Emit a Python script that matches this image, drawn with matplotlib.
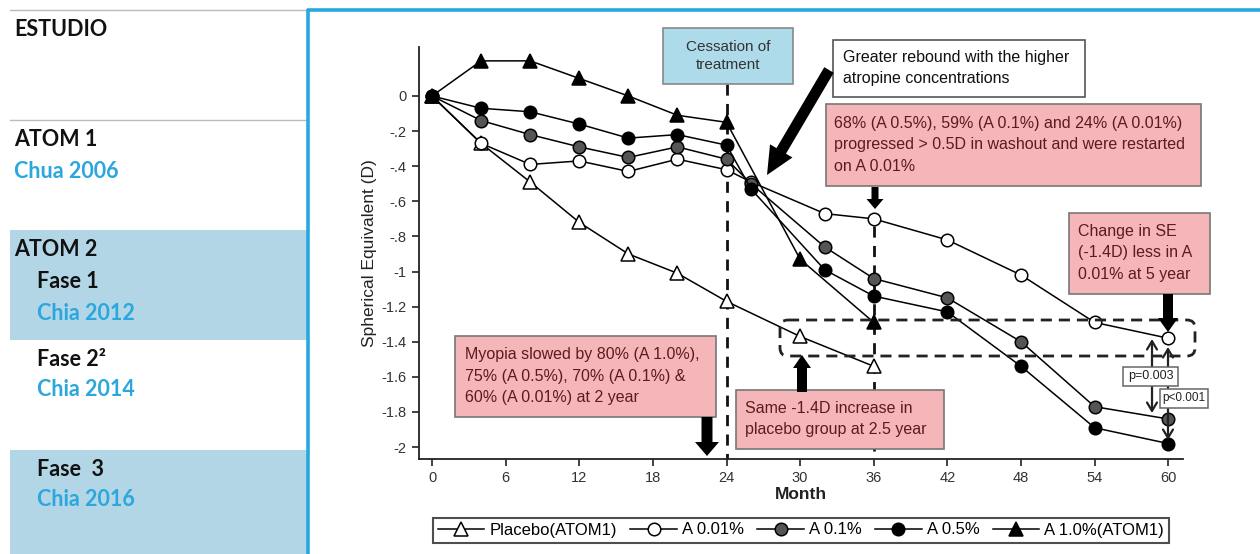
import matplotlib
matplotlib.use('Agg')
import matplotlib.pyplot as plt
from matplotlib.patches import Rectangle, FancyBboxPatch, FancyArrowPatch

# ---------------- data ----------------
months_short = [0, 4, 8, 12, 16, 20, 24, 30, 36]
months_long = [0, 4, 8, 12, 16, 20, 24, 26, 32, 36, 42, 48, 54, 60]

se_placebo = [0, -0.27, -0.49, -0.72, -0.90, -1.01, -1.17, -1.37, -1.54]
se_a001 = [0, -0.27, -0.39, -0.37, -0.43, -0.36, -0.42, -0.49, -0.67, -0.70, -0.82, -1.02, -1.29, -1.38]
se_a01 = [0, -0.14, -0.22, -0.29, -0.35, -0.29, -0.36, -0.50, -0.86, -1.04, -1.15, -1.40, -1.77, -1.84]
se_a05 = [0, -0.07, -0.09, -0.16, -0.24, -0.22, -0.28, -0.53, -0.99, -1.14, -1.23, -1.54, -1.89, -1.98]
se_a10 = [0, 0.20, 0.20, 0.10, 0.00, -0.11, -0.15, -0.93, -1.29]

series_labels = ['Placebo(ATOM1)', 'A 0.01%', 'A 0.1%', 'A 0.5%', 'A 1.0%(ATOM1)']

x_ticks = list(range(0, 61, 6))
y_ticks = [0, -0.2, -0.4, -0.6, -0.8, -1, -1.2, -1.4, -1.6, -1.8, -2]
y_ticklabels = ['0', '-.2', '-.4', '-.6', '-.8', '-1', '-1.2', '-1.4', '-1.6', '-1.8', '-2']

study_heads = ['ESTUDIO', 'ATOM 1', 'ATOM 2', 'Fase 1', 'Fase 2²', 'Fase  3']
study_cites = ['Chua 2006', 'Chia 2012', 'Chia 2014', 'Chia 2016']

# ---------------- figure ----------------
W, H = 1260, 554
fig = plt.figure(figsize=(W / 100, H / 100), dpi=100)
fig.patch.set_facecolor('white')

NARROW = ['Liberation Sans Narrow', 'Liberation Sans', 'DejaVu Sans']
ARIAL = ['Liberation Sans', 'DejaVu Sans']
LEFTF = ['Lato', 'Open Sans', 'DejaVu Sans']

def fr(x0, y0, x1, y1):
    return [x0 / W, 1 - y1 / H, (x1 - x0) / W, (y1 - y0) / H]

# main axes
ax = fig.add_axes(fr(419, 47, 1183, 459))
ax.set_xlim(-1.06, 61.2)
ax.set_ylim(-2.068, 0.279)
for s in ['top', 'right']:
    ax.spines[s].set_visible(False)
for s in ['left', 'bottom']:
    ax.spines[s].set_linewidth(1.3)
    ax.spines[s].set_color('#222222')
ax.set_xticks(x_ticks)
ax.set_yticks(y_ticks)
ax.set_yticklabels(y_ticklabels)
ax.tick_params(axis='both', direction='out', length=5, width=1.2, color='#222222',
               labelsize=10.5, labelcolor='#333333', pad=4)
for lab in ax.get_xticklabels() + ax.get_yticklabels():
    lab.set_family(ARIAL)
ax.set_xlabel('Month', fontsize=12.5, fontweight='bold', family=ARIAL, labelpad=1, color='#222222')
ax.set_ylabel('Spherical Equivalent (D)', fontsize=12.5, family=ARIAL, color='#222222', labelpad=3)

lw = 1.1
ax.plot(months_short, se_placebo, color='black', lw=lw, marker='^', ms=10, mfc='white', mec='black', mew=1.1,
        label=series_labels[0], clip_on=False, zorder=3)
ax.plot(months_long, se_a001, color='black', lw=lw, marker='o', ms=9, mfc='white', mec='black', mew=1.1,
        label=series_labels[1], clip_on=False, zorder=3)
ax.plot(months_long, se_a01, color='black', lw=lw, marker='o', ms=9, mfc='#555555', mec='black', mew=1.1,
        label=series_labels[2], clip_on=False, zorder=3)
ax.plot(months_long, se_a05, color='black', lw=lw, marker='o', ms=9, mfc='black', mec='black', mew=1.1,
        label=series_labels[3], clip_on=False, zorder=3)
ax.plot(months_short, se_a10, color='black', lw=lw, marker='^', ms=10, mfc='black', mec='black', mew=1.1,
        label=series_labels[4], clip_on=False, zorder=3)

# vertical dashed lines at 24 and 36 months
ax.plot([24, 24], [0.068, -2.068], color='#111111', lw=2, ls=(0, (4, 3)), zorder=1, clip_on=False)
ax.plot([36, 36], [-0.74, -2.068], color='#111111', lw=2, ls=(0, (4, 3)), zorder=1, clip_on=False)

leg = fig.legend(loc='center', bbox_to_anchor=((427 + 1175) / 2 / W, 1 - 530 / H), ncol=5,
                 frameon=True, fancybox=False, handlelength=2.8, columnspacing=0.8, handletextpad=0.3,
                 prop={'family': ARIAL, 'size': 12}, borderpad=0.3, borderaxespad=0)
leg.get_frame().set_edgecolor('#222222')
leg.get_frame().set_linewidth(1.5)

# ---------------- overlay in pixel coords ----------------
ov = fig.add_axes([0, 0, 1, 1], zorder=5)
ov.set_xlim(0, W)
ov.set_ylim(H, 0)
ov.axis('off')
ov.patch.set_alpha(0)

# left panel
panel_blue = '#b3d6e7'
cite_blue = '#2ba7de'
frame_blue = '#29a8df'
ov.plot([10, 307], [10, 10], color='#bbbbbb', lw=1)
ov.plot([10, 307], [120, 120], color='#bbbbbb', lw=1)
ov.add_patch(Rectangle((10, 230), 297, 110, fc=panel_blue, ec='none'))
ov.add_patch(Rectangle((10, 450), 297, 105, fc=panel_blue, ec='none'))

lf = dict(fontsize=15.5, family=LEFTF, fontweight='bold', va='center')
ov.text(14, 29, study_heads[0], color='#111111', **lf)
ov.text(14, 140, study_heads[1], color='#111111', **lf)
ov.text(14, 171, study_cites[0], color=cite_blue, **lf)
ov.text(14, 249, study_heads[2], color='#111111', **lf)
ov.text(37, 282, study_heads[3], color='#111111', **lf)
ov.text(37, 313, study_cites[1], color=cite_blue, **lf)
ov.text(37, 359, study_heads[4], color='#111111', **lf)
ov.text(37, 390, study_cites[2], color=cite_blue, **lf)
ov.text(37, 470, study_heads[5], color='#111111', **lf)
ov.text(37, 500, study_cites[3], color=cite_blue, **lf)

# blue frame around chart
ov.plot([308, 308], [9, 554], color=frame_blue, lw=2.6, solid_capstyle='butt')
ov.plot([307, 1260], [10, 10], color=frame_blue, lw=2.6, solid_capstyle='butt')

# annotation boxes
pink = '#f4b6b8'
pink_text = '#5a1c1c'
AF = dict(family=NARROW, fontsize=11.5, linespacing=1.55, zorder=8, ha='left', va='center')

def box(x0, y0, x1, y1, fc, ec='#777777', lw=1.2, z=6):
    ov.add_patch(Rectangle((x0, y0), x1 - x0, y1 - y0, fc=fc, ec=ec, lw=lw, zorder=z))

def arrow(p0, p1, tail, head_w, head_l, z=7, color='black'):
    style = 'simple,head_width=%.3f,head_length=%.3f,tail_width=%.3f' % (
        head_w / 13.9, head_l / 13.9, tail / 13.9)
    ov.add_patch(FancyArrowPatch(p0, p1, arrowstyle=style, mutation_scale=10, fc=color, ec=color,
                                 lw=0, shrinkA=0, shrinkB=0, zorder=z))

box(663, 28, 793, 84, '#aedbea', ec='#888888')
ov.text(728, 56, 'Cessation of\ntreatment', ha='center', va='center', fontsize=11, family=NARROW,
        color='#333333', linespacing=1.4, zorder=8)

box(833, 40, 1085, 97, 'white', ec='#555555')
ov.text(843, 68, 'Greater rebound with the higher\natropine concentrations', color='#111111', **AF)

box(826, 104, 1201, 186, pink)
ov.text(834, 145, '68% (A 0.5%), 59% (A 0.1%) and 24% (A 0.01%)\nprogressed > 0.5D in washout and were restarted\non A 0.01%',
        color=pink_text, **AF)

box(1069, 213, 1210, 294, pink)
ov.text(1078, 253, 'Change in SE\n(-1.4D) less in A\n0.01% at 5 year', color=pink_text, **AF)

box(455, 336, 716, 417, pink)
ov.text(465, 376, 'Myopia slowed by 80% (A 1.0%),\n75% (A 0.5%), 70% (A 0.1%) &\n60% (A 0.01%) at 2 year',
        color=pink_text, **AF)

box(736, 390, 944, 449, pink)
ov.text(745, 419, 'Same -1.4D increase in\nplacebo group at 2.5 year', color=pink_text, **AF)

# dashed rounded rectangle
ov.add_patch(FancyBboxPatch((780, 320), 415, 36, boxstyle='round,pad=0,rounding_size=8',
                            fc='none', ec='#222222', lw=2, ls=(0, (4, 2.5)), zorder=6))

# arrows
arrow((829, 70), (767, 175), 11, 26, 28)
arrow((875, 187), (875, 209), 7, 17, 10)
arrow((1168, 294), (1168, 332), 10, 20, 14)
arrow((707, 417), (707, 456), 11, 24, 14)
arrow((802, 392), (802, 355), 10, 18, 13)

# p-value double arrows
ov.add_patch(FancyArrowPatch((1152, 339), (1152, 413), arrowstyle='<->,head_length=0.5,head_width=0.3',
                             mutation_scale=12, color='#222222', lw=1.6, shrinkA=0, shrinkB=0, zorder=7))
ov.add_patch(FancyArrowPatch((1168, 347), (1168, 440), arrowstyle='<->,head_length=0.5,head_width=0.3',
                             mutation_scale=12, color='#222222', lw=1.6, shrinkA=0, shrinkB=0, zorder=7))
box(1123, 367, 1178, 386, 'white', ec='#666666', lw=1.1, z=8)
ov.text(1150.5, 376.5, 'p=0.003', ha='center', va='center', fontsize=9, family=NARROW, color='#222222', zorder=9)
box(1160, 389, 1208, 408, 'white', ec='#666666', lw=1.1, z=8)
ov.text(1184, 398.5, 'p<0.001', ha='center', va='center', fontsize=8.5, family=NARROW, color='#222222', zorder=9)

fig.savefig('out.png', dpi=100, facecolor='white')
